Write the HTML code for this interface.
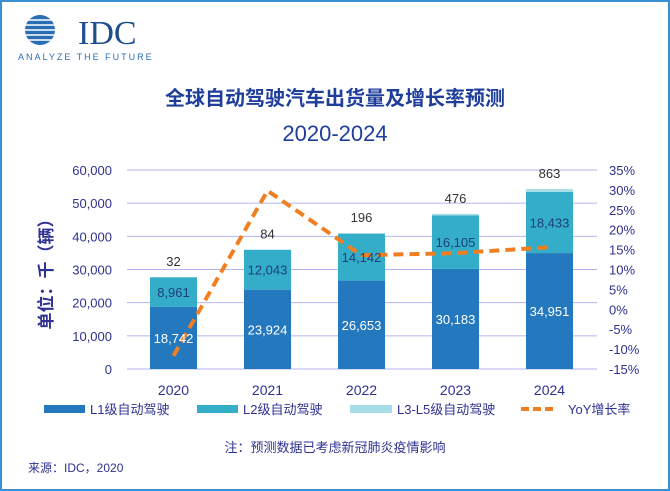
<!DOCTYPE html>
<html><head><meta charset="utf-8"><style>
body{margin:0;width:670px;height:491px;overflow:hidden;background:#fff;font-family:"Liberation Sans","Noto Sans CJK SC",sans-serif}
#frame{position:absolute;left:0;top:0;width:666px;height:487px;border:2px solid #3b8fd3}
</style></head><body>
<div id="frame"></div>
<svg width="670" height="491" style="position:absolute;left:0;top:0" id="chart">
<g>
 <circle cx="40" cy="30" r="15" fill="#2a6eb5"/>
 <g stroke="#fff" stroke-width="1.5">
  <line x1="16" y1="20" x2="72" y2="20"/><line x1="16" y1="25" x2="72" y2="25"/><line x1="16" y1="30" x2="72" y2="30"/><line x1="16" y1="35" x2="72" y2="35"/><line x1="16" y1="40" x2="72" y2="40"/>
 </g>
 <text x="78" y="44" font-family="Liberation Serif,serif" font-size="34" fill="#1f4e8c">IDC</text>
 <text x="18" y="60" font-size="9" letter-spacing="2" fill="#2a6eb5">ANALYZE THE FUTURE</text>
</g>
<text x="335" y="105" text-anchor="middle" font-size="20" font-weight="bold" fill="#1f3e9c">全球自动驾驶汽车出货量及增长率预测</text>
<text x="335" y="141" text-anchor="middle" font-size="22" fill="#1f3e9c">2020-2024</text>
<text transform="translate(52,270) rotate(-90)" text-anchor="middle" font-size="17" font-weight="bold" fill="#2e3192">单位：千（辆）</text>
<g id="grid"></g><g id="bars"></g><g id="line"></g><g id="labels"></g>
<g font-size="13" fill="#2e3192">
 <rect x="44" y="405" width="41" height="8" fill="#2478be"/><text x="90" y="414">L1级自动驾驶</text>
 <rect x="197" y="405" width="41" height="8" fill="#33adc8"/><text x="243" y="414">L2级自动驾驶</text>
 <rect x="350" y="405" width="42" height="8" fill="#a6dde6"/><text x="397" y="414">L3-L5级自动驾驶</text>
 <line x1="521" y1="409" x2="555" y2="409" stroke="#f07f22" stroke-width="4" stroke-dasharray="8,4"/><text x="568" y="414">YoY增长率</text>
</g>
<text x="335" y="452" text-anchor="middle" font-size="13" fill="#2e3192">注：预测数据已考虑新冠肺炎疫情影响</text>
<text x="28" y="472" font-size="12" fill="#2e3192">来源：IDC，2020</text>
</svg>
<script>
const years=["2020","2021","2022","2023","2024"];
const l1=[18742,23924,26653,30183,34951];
const l2=[8961,12043,14142,16105,18433];
const l3=[32,84,196,476,863];
const yoy=[-11.7,29.8,13.6,14.1,15.6];
const leftTicks=[0,10000,20000,30000,40000,50000,60000];
const rightTicks=[-15,-10,-5,0,5,10,15,20,25,30,35];
const NS="http://www.w3.org/2000/svg";
const x0=127,x1=597,yTop=170,yBot=369;
const yL=v=>yBot-(v/60000)*(yBot-yTop);
const yR=v=>yBot-((v+15)/50)*(yBot-yTop);
const xC=i=>173.5+i*94;
function mk(p,tag,a,txt){const e=document.createElementNS(NS,tag);for(const k in a)e.setAttribute(k,a[k]);if(txt!==undefined)e.textContent=txt;document.getElementById(p).appendChild(e);return e;}
const fmt=v=>v.toLocaleString("en-US");
leftTicks.forEach(t=>{
 const g=mk("grid","line",{x1:x0,x2:x1,y1:yL(t),y2:yL(t),stroke:"#b4b4f0","stroke-width":1});
 
 
 const l=mk("grid","text",{x:112,y:yL(t)+5,"text-anchor":"end","font-size":13,fill:"#2e3192"},fmt(t));
 
 
});
rightTicks.forEach(t=>{
 const l=mk("grid","text",{x:609,y:yR(t)+5,"font-size":13,fill:"#2e3192"},t+"%");
 
 
});
years.forEach((y,i)=>{
 const cx=xC(i),w=47,bx=cx-w/2;
 const t1=yL(l1[i]),t2=yL(l1[i]+l2[i]),t3=yL(l1[i]+l2[i]+l3[i]);
 let r=mk("bars","rect",{x:bx,y:t1,width:w,height:yBot-t1,fill:"#2478be"});
 
 
 r=mk("bars","rect",{x:bx,y:t2,width:w,height:t1-t2,fill:"#33adc8"});
 
 
 r=mk("bars","rect",{x:bx,y:t3,width:w,height:Math.max(t2-t3,0.5),fill:"#a6dde6"});
 
 
 let t=mk("labels","text",{x:cx,y:(t1+yBot)/2+5,"text-anchor":"middle","font-size":13,fill:"#fff"},fmt(l1[i]));
 
 
 t=mk("labels","text",{x:cx,y:(t1+t2)/2+5,"text-anchor":"middle","font-size":13,fill:"#1f3e7c"},fmt(l2[i]));
 
 
 t=mk("labels","text",{x:cx,y:t3-11,"text-anchor":"middle","font-size":13,fill:"#333"},fmt(l3[i]));
 
 
 t=mk("labels","text",{x:cx,y:395,"text-anchor":"middle","font-size":14,fill:"#2e3192"},y);
 
 
});
const pl=mk("line","polyline",{points:yoy.map((v,i)=>xC(i)+","+yR(v)).join(" "),fill:"none",stroke:"#f07f22","stroke-width":4,"stroke-dasharray":"10,6"});


</script>
</body></html>
